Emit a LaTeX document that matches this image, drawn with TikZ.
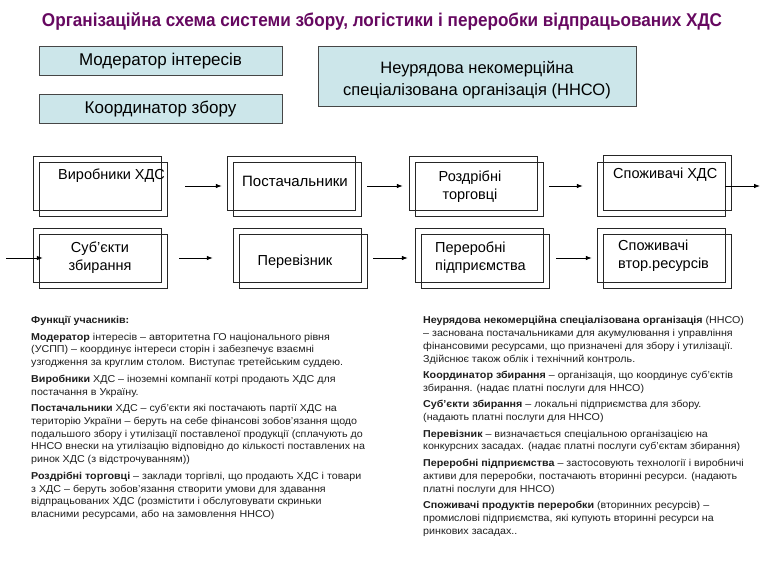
\documentclass[tikz,border=0pt]{standalone}
\usepackage{fontspec}
\setmainfont{Liberation Sans}
\usetikzlibrary{arrows.meta}
\definecolor{titlec}{RGB}{102,8,96}
\definecolor{boxfill}{RGB}{204,230,234}
\definecolor{boxline}{RGB}{70,70,70}
\definecolor{txt}{RGB}{30,30,30}
\newcommand\dblframeA[1]{%
  \draw[frame] ([shift={(-67,-30)}]#1.center) rectangle ([shift={(61,24)}]#1.center);
  \draw[frame] ([shift={(-61,-24)}]#1.center) rectangle ([shift={(67,30)}]#1.center);}
\newcommand\dblframeB[1]{%
  \draw[frame] ([shift={(-61,-31)}]#1.center) rectangle ([shift={(67,24)}]#1.center);
  \draw[frame] ([shift={(-67,-24)}]#1.center) rectangle ([shift={(61,30)}]#1.center);}
\newcommand\colblock[1]{\scalebox{1.07}[1]{\begin{tabular}{@{}l@{}}#1\end{tabular}}}
\begin{document}
\begin{tikzpicture}[x=1pt,y=-1pt,
 topbox/.style={draw=boxline, line width=1pt, fill=boxfill, inner sep=0pt, font=\fontsize{17}{17}\selectfont},
 dblbox/.style={minimum width=134pt, minimum height=60pt, inner sep=0pt},
 frame/.style={draw=black!85, line width=0.8pt},
 lbl/.style={font=\fontsize{14.5}{18}\selectfont, inner sep=0pt, align=center},
 lbll/.style={font=\fontsize{14.5}{18}\selectfont, inner sep=0pt, align=left},
 arr/.style={-{Latex[length=6pt,width=4.5pt]}, line width=0.8pt},
 para/.style={font=\fontsize{10}{12.8}\selectfont, anchor=north west, inner sep=0pt, text=txt}
]
\useasboundingbox (0,0) rectangle (770,577);
% title
\node[text=titlec, font=\fontsize{18.5}{18.5}\selectfont\bfseries, inner sep=0pt] (title) at (382,22)
  {\resizebox{680pt}{\height}{Організаційна схема системи збору, логістики і переробки відпрацьованих ХДС}};
% top boxes
\node[topbox, minimum width=243pt, minimum height=29pt] (mod) at (160.5,61.5) {Модератор інтересів};
\node[topbox, minimum width=243pt, minimum height=29pt] (coord) at (160.5,109.5) {Координатор збору};
\node[topbox, minimum width=318pt, minimum height=60pt] (nnso) at (477,77) {};
\node[align=center, inner sep=0pt, font=\fontsize{16.5}{22}\selectfont] (nnsot) at (477,80)
  {Неурядова некомерційна\\спеціалізована організація (ННСО)};
% row 1
\node[dblbox] (v1) at (100,186) {};
\node[dblbox] (p1) at (294,186) {};
\node[dblbox] (r1) at (476,186) {};
\node[dblbox] (s1) at (664,186) {};
\dblframeA{v1}\dblframeA{p1}\dblframeA{r1}\dblframeB{s1}
\node[lbll, anchor=west] (v1t) at (58,176) {Виробники ХДС};
\node[lbl, font=\fontsize{15}{18}\selectfont] (p1t) at (295,181) {Постачальники};
\node[lbl] (r1t) at (470,187) {Роздрібні\\торговці};
\node[lbll, anchor=west] (s1t) at (613,175) {Споживачі ХДС};
% row 2
\node[dblbox] (sb2) at (100,258) {};
\node[dblbox] (pv2) at (300,258) {};
\node[dblbox] (pp2) at (482,258) {};
\node[dblbox] (sv2) at (664,258) {};
\dblframeA{sb2}\dblframeA{pv2}\dblframeA{pp2}\dblframeA{sv2}
\node[lbl] (sb2t) at (100,258) {Суб'єкти\\збирання};
\node[lbl] (pv2t) at (295,262) {Перевізник};
\node[lbll, anchor=west] (pp2t) at (435,258) {Переробні\\підприємства};
\node[lbll, anchor=west] (sv2t) at (618,256) {Споживачі\\втор.ресурсів};
% arrows
\coordinate (in2) at (6,258);
\coordinate (out1) at (760,186);
\draw[arr] ([xshift=18pt]v1.east) -- ([xshift=-5pt]p1.west);
\draw[arr] ([xshift=6pt]p1.east) -- ([xshift=-6pt]r1.west);
\draw[arr] ([xshift=6pt]r1.east) -- ([xshift=-14pt]s1.west);
\draw[arr] ([xshift=-6pt]s1.east) -- (out1);
\draw[arr] (in2) -- ([xshift=10pt]sb2.west);
\draw[arr] ([xshift=12pt]sb2.east) -- ([xshift=-20pt]pv2.west);
\draw[arr] ([xshift=6pt]pv2.east) -- ([xshift=-7pt]pp2.west);
\draw[arr] ([xshift=7pt]pp2.east) -- ([xshift=-5pt]sv2.west);
% text blocks
\node[para] (leftcol) at (31,314.5) {\colblock{%
\textbf{Функції учасників:}\\[3.7pt]
\textbf{Модератор} інтересів – авторитетна ГО національного рівня\\
(УСПП) – координує інтереси сторін і забезпечує взаємні\\
узгодження за круглим столом. Виступає третейським суддею.\\[3.7pt]
\textbf{Виробники} ХДС – іноземні компанії котрі продають ХДС  для\\
постачання в Україну.\\[3.7pt]
\textbf{Постачальники} ХДС – суб'єкти які постачають партії ХДС на\\
територію України – беруть на себе фінансові зобов'язання щодо\\
подальшого збору і утилізації поставленої продукції (сплачують до\\
ННСО внески на утилізацію відповідно до кількості поставлених на\\
ринок ХДС (з відстрочуванням))\\[3.7pt]
\textbf{Роздрібні торговці} – заклади торгівлі, що продають ХДС  і товари\\
з ХДС  – беруть зобов'язання створити умови для здавання\\
відпрацьованих ХДС (розмістити і обслуговувати скриньки\\
власними ресурсами, або на замовлення ННСО)}};
\node[para] (rightcol) at (423,314.5) {\colblock{%
\textbf{Неурядова некомерційна спеціалізована організація} (ННСО)\\
– заснована постачальниками для акумулювання і управління\\
фінансовими ресурсами, що призначені для збору і утилізації.\\
Здійснює також облік і технічний контроль.\\[3.7pt]
\textbf{Координатор збирання} – організація, що координує суб'єктів\\
збирання. (надає платні послуги для ННСО)\\[3.7pt]
\textbf{Суб'єкти збирання} – локальні підприємства для збору.\\
(надають платні послуги для ННСО)\\[3.7pt]
\textbf{Перевізник} – визначається спеціальною організацією на\\
конкурсних засадах. (надає платні послуги суб'єктам збирання)\\[3.7pt]
\textbf{Переробні підприємства} – застосовують технології і виробничі\\
активи для переробки, постачають вторинні ресурси. (надають\\
платні послуги для ННСО)\\[3.7pt]
\textbf{Споживачі продуктів переробки} (вторинних ресурсів) –\\
промислові підприємства, які купують вторинні ресурси на\\
ринкових засадах..}};
\end{tikzpicture}
\end{document}
